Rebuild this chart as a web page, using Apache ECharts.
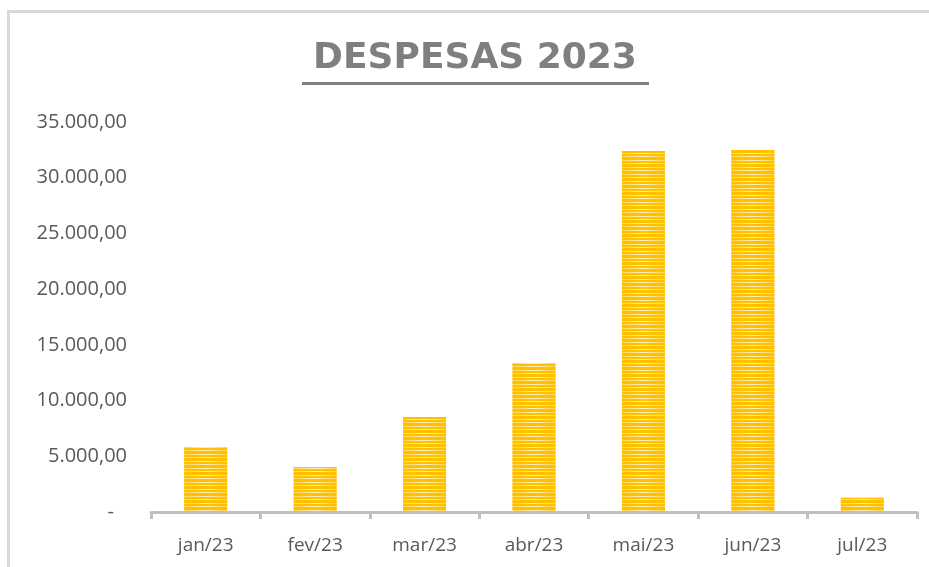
<!DOCTYPE html>
<html>
<head>
<meta charset="utf-8">
<script src="https://cdn.jsdelivr.net/npm/echarts@6/dist/echarts.min.js"></script>
<style>
  html, body { margin: 0; padding: 0; background: #fff; }
  #chart { width: 929px; height: 567px; }
</style>
</head>
<body>
<div id="chart"></div>
<script>
// dados
const meses = ['jan/23', 'fev/23', 'mar/23', 'abr/23', 'mai/23', 'jun/23', 'jul/23']
const despesas = [5830, 4040, 8530, 13370, 32400, 32490, 1290]
const yMax = 35000
const yStep = 5000

// formato pt-BR: 35.000,00
const formatBR = (v) => {
  if (v === 0) return '{z|-}'
  const inteiro = Math.round(v).toString().replace(/\B(?=(\d{3})+(?!\d))/g, '.')
  return inteiro + ',00'
}

const chart = echarts.init(document.getElementById('chart'))

const option = {
  animation: false,
  title: {
    text: 'DESPESAS 2023',
    left: 470,
    textAlign: 'center',
    top: 36,
    textStyle: {
      fontFamily: 'DejaVu Sans',
      fontWeight: 'bold',
      fontSize: 36,
      color: '#7f7f7f'
    }
  },
  graphic: [
    // borda da área do gráfico (só esquerda e topo aparecem)
    {
      type: 'polyline',
      shape: { points: [[8.5, 600], [8.5, 11.5], [940, 11.5]] },
      style: { fill: 'none', stroke: '#d9d9d9', lineWidth: 3 },
      silent: true
    },
    // sublinhado do título
    {
      type: 'line',
      shape: { x1: 302, y1: 83.5, x2: 649, y2: 83.5 },
      style: { stroke: '#7f7f7f', lineWidth: 3 },
      silent: true
    }
  ],
  grid: {
    left: 151,
    right: 12,
    top: 122,
    bottom: 55
  },
  xAxis: {
    type: 'category',
    data: meses,
    boundaryGap: true,
    axisLine: { lineStyle: { color: '#bfbfbf', width: 3 } },
    axisTick: { show: true, length: 7, lineStyle: { color: '#bfbfbf', width: 3 } },
    axisLabel: {
      margin: 24,
      color: '#595959',
      fontFamily: 'Open Sans',
      fontSize: 19
    }
  },
  yAxis: {
    type: 'value',
    min: 0,
    max: yMax,
    interval: yStep,
    axisLine: { show: false },
    axisTick: { show: false },
    splitLine: { show: false },
    axisLabel: {
      margin: 24,
      color: '#595959',
      fontFamily: 'Open Sans',
      fontSize: 20,
      formatter: formatBR,
      rich: {
        z: { color: '#595959', fontFamily: 'Open Sans', fontSize: 20, padding: [0, 13, 0, 0] }
      }
    }
  },
  series: [
    {
      name: 'Despesas',
      type: 'bar',
      barWidth: 43,
      data: despesas,
      itemStyle: {
        color: new echarts.graphic.LinearGradient(0, 0, 1, 0, [
          { offset: 0, color: '#ffd34d' },
          { offset: 0.5, color: '#fff1c4' },
          { offset: 1, color: '#ffd34d' }
        ]),
        decal: {
          symbol: 'rect',
          symbolSize: 1,
          dashArrayX: [1, 0],
          dashArrayY: [2, 1, 3, 1],
          rotation: 0,
          color: '#ffc000'
        }
      }
    }
  ]
}

chart.setOption(option)
</script>
</body>
</html>
